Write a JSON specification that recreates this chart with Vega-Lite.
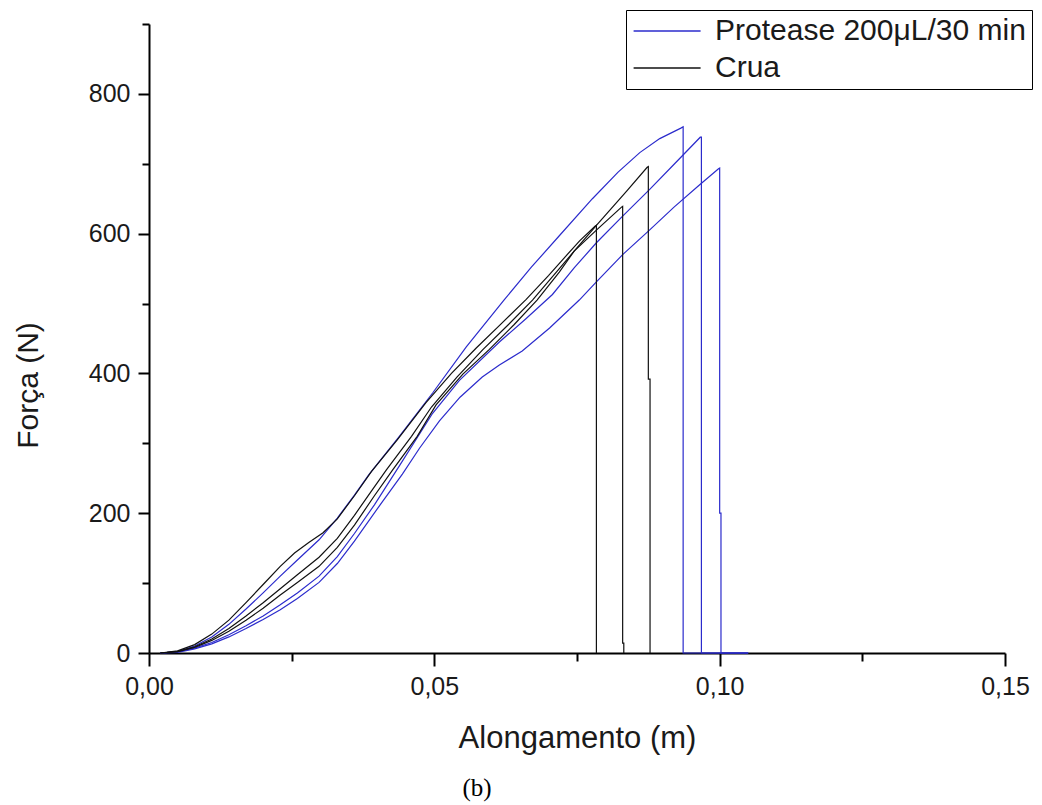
{
  "$schema": "https://vega.github.io/schema/vega-lite/v6.json",
  "width": 856,
  "height": 629,
  "autosize": {"type": "none"},
  "padding": {"left": 149, "top": 24, "right": 37, "bottom": 152},
  "background": "white",
  "config": {"view": {"stroke": null}, "font": "Liberation Sans"},
  "title": {"text": "(b)", "orient": "bottom", "anchor": "middle", "font": "Liberation Serif", "fontSize": 25, "fontWeight": "normal", "color": "black", "dx": -100, "offset": 23},
  "data": {"values": [
    {"c":"B1","g":"Protease 200μL/30 min","i":1,"x":0.002,"f":0},
    {"c":"B1","g":"Protease 200μL/30 min","i":2,"x":0.005,"f":2},
    {"c":"B1","g":"Protease 200μL/30 min","i":3,"x":0.008,"f":10},
    {"c":"B1","g":"Protease 200μL/30 min","i":4,"x":0.011,"f":23},
    {"c":"B1","g":"Protease 200μL/30 min","i":5,"x":0.014,"f":41},
    {"c":"B1","g":"Protease 200μL/30 min","i":6,"x":0.017,"f":63},
    {"c":"B1","g":"Protease 200μL/30 min","i":7,"x":0.02,"f":86},
    {"c":"B1","g":"Protease 200μL/30 min","i":8,"x":0.023,"f":110},
    {"c":"B1","g":"Protease 200μL/30 min","i":9,"x":0.026,"f":133},
    {"c":"B1","g":"Protease 200μL/30 min","i":10,"x":0.0298,"f":162},
    {"c":"B1","g":"Protease 200μL/30 min","i":11,"x":0.033,"f":193},
    {"c":"B1","g":"Protease 200μL/30 min","i":12,"x":0.036,"f":226},
    {"c":"B1","g":"Protease 200μL/30 min","i":13,"x":0.0385,"f":255},
    {"c":"B1","g":"Protease 200μL/30 min","i":14,"x":0.0437,"f":308},
    {"c":"B1","g":"Protease 200μL/30 min","i":15,"x":0.0497,"f":372},
    {"c":"B1","g":"Protease 200μL/30 min","i":16,"x":0.0556,"f":438},
    {"c":"B1","g":"Protease 200μL/30 min","i":17,"x":0.0622,"f":505},
    {"c":"B1","g":"Protease 200μL/30 min","i":18,"x":0.067,"f":552},
    {"c":"B1","g":"Protease 200μL/30 min","i":19,"x":0.0719,"f":597},
    {"c":"B1","g":"Protease 200μL/30 min","i":20,"x":0.0777,"f":650},
    {"c":"B1","g":"Protease 200μL/30 min","i":21,"x":0.0822,"f":688},
    {"c":"B1","g":"Protease 200μL/30 min","i":22,"x":0.086,"f":716},
    {"c":"B1","g":"Protease 200μL/30 min","i":23,"x":0.0895,"f":736},
    {"c":"B1","g":"Protease 200μL/30 min","i":24,"x":0.0932,"f":751},
    {"c":"B1","g":"Protease 200μL/30 min","i":25,"x":0.0936,"f":753},
    {"c":"B1","g":"Protease 200μL/30 min","i":26,"x":0.0936,"f":0},
    {"c":"B1","g":"Protease 200μL/30 min","i":27,"x":0.105,"f":0},

    {"c":"B2","g":"Protease 200μL/30 min","i":1,"x":0.002,"f":0},
    {"c":"B2","g":"Protease 200μL/30 min","i":2,"x":0.005,"f":2},
    {"c":"B2","g":"Protease 200μL/30 min","i":3,"x":0.008,"f":7},
    {"c":"B2","g":"Protease 200μL/30 min","i":4,"x":0.011,"f":15},
    {"c":"B2","g":"Protease 200μL/30 min","i":5,"x":0.014,"f":26},
    {"c":"B2","g":"Protease 200μL/30 min","i":6,"x":0.017,"f":39},
    {"c":"B2","g":"Protease 200μL/30 min","i":7,"x":0.02,"f":53},
    {"c":"B2","g":"Protease 200μL/30 min","i":8,"x":0.023,"f":69},
    {"c":"B2","g":"Protease 200μL/30 min","i":9,"x":0.026,"f":86},
    {"c":"B2","g":"Protease 200μL/30 min","i":10,"x":0.0298,"f":110},
    {"c":"B2","g":"Protease 200μL/30 min","i":11,"x":0.033,"f":138},
    {"c":"B2","g":"Protease 200μL/30 min","i":12,"x":0.036,"f":171},
    {"c":"B2","g":"Protease 200μL/30 min","i":13,"x":0.0395,"f":212},
    {"c":"B2","g":"Protease 200μL/30 min","i":14,"x":0.0439,"f":268},
    {"c":"B2","g":"Protease 200μL/30 min","i":15,"x":0.0497,"f":343},
    {"c":"B2","g":"Protease 200μL/30 min","i":16,"x":0.0544,"f":390},
    {"c":"B2","g":"Protease 200μL/30 min","i":17,"x":0.0614,"f":445},
    {"c":"B2","g":"Protease 200μL/30 min","i":18,"x":0.066,"f":478},
    {"c":"B2","g":"Protease 200μL/30 min","i":19,"x":0.0707,"f":513},
    {"c":"B2","g":"Protease 200μL/30 min","i":20,"x":0.0745,"f":551},
    {"c":"B2","g":"Protease 200μL/30 min","i":21,"x":0.0784,"f":587},
    {"c":"B2","g":"Protease 200μL/30 min","i":22,"x":0.083,"f":625},
    {"c":"B2","g":"Protease 200μL/30 min","i":23,"x":0.0877,"f":663},
    {"c":"B2","g":"Protease 200μL/30 min","i":24,"x":0.0921,"f":700},
    {"c":"B2","g":"Protease 200μL/30 min","i":25,"x":0.0966,"f":738},
    {"c":"B2","g":"Protease 200μL/30 min","i":26,"x":0.0968,"f":738},
    {"c":"B2","g":"Protease 200μL/30 min","i":27,"x":0.0968,"f":0},
    {"c":"B2","g":"Protease 200μL/30 min","i":28,"x":0.105,"f":0},

    {"c":"B3","g":"Protease 200μL/30 min","i":1,"x":0.002,"f":0},
    {"c":"B3","g":"Protease 200μL/30 min","i":2,"x":0.005,"f":1},
    {"c":"B3","g":"Protease 200μL/30 min","i":3,"x":0.008,"f":6},
    {"c":"B3","g":"Protease 200μL/30 min","i":4,"x":0.011,"f":13},
    {"c":"B3","g":"Protease 200μL/30 min","i":5,"x":0.014,"f":23},
    {"c":"B3","g":"Protease 200μL/30 min","i":6,"x":0.017,"f":35},
    {"c":"B3","g":"Protease 200μL/30 min","i":7,"x":0.02,"f":48},
    {"c":"B3","g":"Protease 200μL/30 min","i":8,"x":0.023,"f":62},
    {"c":"B3","g":"Protease 200μL/30 min","i":9,"x":0.026,"f":78},
    {"c":"B3","g":"Protease 200μL/30 min","i":10,"x":0.0298,"f":101},
    {"c":"B3","g":"Protease 200μL/30 min","i":11,"x":0.033,"f":128},
    {"c":"B3","g":"Protease 200μL/30 min","i":12,"x":0.036,"f":160},
    {"c":"B3","g":"Protease 200μL/30 min","i":13,"x":0.0405,"f":212},
    {"c":"B3","g":"Protease 200μL/30 min","i":14,"x":0.0444,"f":256},
    {"c":"B3","g":"Protease 200μL/30 min","i":15,"x":0.0474,"f":293},
    {"c":"B3","g":"Protease 200μL/30 min","i":16,"x":0.0509,"f":332},
    {"c":"B3","g":"Protease 200μL/30 min","i":17,"x":0.0545,"f":366},
    {"c":"B3","g":"Protease 200μL/30 min","i":18,"x":0.0584,"f":395},
    {"c":"B3","g":"Protease 200μL/30 min","i":19,"x":0.0614,"f":412},
    {"c":"B3","g":"Protease 200μL/30 min","i":20,"x":0.0654,"f":432},
    {"c":"B3","g":"Protease 200μL/30 min","i":21,"x":0.0702,"f":465},
    {"c":"B3","g":"Protease 200μL/30 min","i":22,"x":0.0754,"f":505},
    {"c":"B3","g":"Protease 200μL/30 min","i":23,"x":0.0784,"f":531},
    {"c":"B3","g":"Protease 200μL/30 min","i":24,"x":0.083,"f":570},
    {"c":"B3","g":"Protease 200μL/30 min","i":25,"x":0.0877,"f":605},
    {"c":"B3","g":"Protease 200μL/30 min","i":26,"x":0.092,"f":638},
    {"c":"B3","g":"Protease 200μL/30 min","i":27,"x":0.0965,"f":670},
    {"c":"B3","g":"Protease 200μL/30 min","i":28,"x":0.0998,"f":693},
    {"c":"B3","g":"Protease 200μL/30 min","i":29,"x":0.1,"f":694},
    {"c":"B3","g":"Protease 200μL/30 min","i":30,"x":0.1,"f":200},
    {"c":"B3","g":"Protease 200μL/30 min","i":31,"x":0.10023,"f":200},
    {"c":"B3","g":"Protease 200μL/30 min","i":32,"x":0.10023,"f":0},
    {"c":"B3","g":"Protease 200μL/30 min","i":33,"x":0.105,"f":0},

    {"c":"K1","g":"Crua","i":1,"x":0.002,"f":0},
    {"c":"K1","g":"Crua","i":2,"x":0.005,"f":3},
    {"c":"K1","g":"Crua","i":3,"x":0.008,"f":12},
    {"c":"K1","g":"Crua","i":4,"x":0.011,"f":27},
    {"c":"K1","g":"Crua","i":5,"x":0.014,"f":47},
    {"c":"K1","g":"Crua","i":6,"x":0.017,"f":72},
    {"c":"K1","g":"Crua","i":7,"x":0.02,"f":98},
    {"c":"K1","g":"Crua","i":8,"x":0.023,"f":124},
    {"c":"K1","g":"Crua","i":9,"x":0.0255,"f":143},
    {"c":"K1","g":"Crua","i":10,"x":0.028,"f":158},
    {"c":"K1","g":"Crua","i":11,"x":0.0305,"f":172},
    {"c":"K1","g":"Crua","i":12,"x":0.033,"f":192},
    {"c":"K1","g":"Crua","i":13,"x":0.036,"f":225},
    {"c":"K1","g":"Crua","i":14,"x":0.039,"f":260},
    {"c":"K1","g":"Crua","i":15,"x":0.0435,"f":305},
    {"c":"K1","g":"Crua","i":16,"x":0.0485,"f":358},
    {"c":"K1","g":"Crua","i":17,"x":0.053,"f":400},
    {"c":"K1","g":"Crua","i":18,"x":0.0573,"f":436},
    {"c":"K1","g":"Crua","i":19,"x":0.0617,"f":471},
    {"c":"K1","g":"Crua","i":20,"x":0.0661,"f":506},
    {"c":"K1","g":"Crua","i":21,"x":0.07,"f":540},
    {"c":"K1","g":"Crua","i":22,"x":0.0725,"f":563},
    {"c":"K1","g":"Crua","i":23,"x":0.0755,"f":590},
    {"c":"K1","g":"Crua","i":24,"x":0.0782,"f":611},
    {"c":"K1","g":"Crua","i":25,"x":0.0784,"f":612},
    {"c":"K1","g":"Crua","i":26,"x":0.0784,"f":0},

    {"c":"K2","g":"Crua","i":1,"x":0.002,"f":0},
    {"c":"K2","g":"Crua","i":2,"x":0.005,"f":2},
    {"c":"K2","g":"Crua","i":3,"x":0.008,"f":9},
    {"c":"K2","g":"Crua","i":4,"x":0.011,"f":20},
    {"c":"K2","g":"Crua","i":5,"x":0.014,"f":35},
    {"c":"K2","g":"Crua","i":6,"x":0.017,"f":53},
    {"c":"K2","g":"Crua","i":7,"x":0.02,"f":72},
    {"c":"K2","g":"Crua","i":8,"x":0.023,"f":92},
    {"c":"K2","g":"Crua","i":9,"x":0.026,"f":112},
    {"c":"K2","g":"Crua","i":10,"x":0.0298,"f":137},
    {"c":"K2","g":"Crua","i":11,"x":0.033,"f":164},
    {"c":"K2","g":"Crua","i":12,"x":0.036,"f":197},
    {"c":"K2","g":"Crua","i":13,"x":0.039,"f":232},
    {"c":"K2","g":"Crua","i":14,"x":0.0416,"f":262},
    {"c":"K2","g":"Crua","i":15,"x":0.046,"f":310},
    {"c":"K2","g":"Crua","i":16,"x":0.0495,"f":352},
    {"c":"K2","g":"Crua","i":17,"x":0.054,"f":395},
    {"c":"K2","g":"Crua","i":18,"x":0.0585,"f":434},
    {"c":"K2","g":"Crua","i":19,"x":0.063,"f":470},
    {"c":"K2","g":"Crua","i":20,"x":0.0672,"f":505},
    {"c":"K2","g":"Crua","i":21,"x":0.0719,"f":550},
    {"c":"K2","g":"Crua","i":22,"x":0.0745,"f":575},
    {"c":"K2","g":"Crua","i":23,"x":0.0784,"f":605},
    {"c":"K2","g":"Crua","i":24,"x":0.0828,"f":638},
    {"c":"K2","g":"Crua","i":25,"x":0.083,"f":639},
    {"c":"K2","g":"Crua","i":26,"x":0.083,"f":14},
    {"c":"K2","g":"Crua","i":27,"x":0.0832,"f":14},
    {"c":"K2","g":"Crua","i":28,"x":0.0832,"f":0},

    {"c":"K3","g":"Crua","i":1,"x":0.002,"f":0},
    {"c":"K3","g":"Crua","i":2,"x":0.005,"f":2},
    {"c":"K3","g":"Crua","i":3,"x":0.008,"f":8},
    {"c":"K3","g":"Crua","i":4,"x":0.011,"f":18},
    {"c":"K3","g":"Crua","i":5,"x":0.014,"f":31},
    {"c":"K3","g":"Crua","i":6,"x":0.017,"f":47},
    {"c":"K3","g":"Crua","i":7,"x":0.02,"f":64},
    {"c":"K3","g":"Crua","i":8,"x":0.023,"f":83},
    {"c":"K3","g":"Crua","i":9,"x":0.026,"f":101},
    {"c":"K3","g":"Crua","i":10,"x":0.0298,"f":124},
    {"c":"K3","g":"Crua","i":11,"x":0.033,"f":151},
    {"c":"K3","g":"Crua","i":12,"x":0.036,"f":183},
    {"c":"K3","g":"Crua","i":13,"x":0.0395,"f":225},
    {"c":"K3","g":"Crua","i":14,"x":0.0427,"f":262},
    {"c":"K3","g":"Crua","i":15,"x":0.047,"f":310},
    {"c":"K3","g":"Crua","i":16,"x":0.0503,"f":355},
    {"c":"K3","g":"Crua","i":17,"x":0.055,"f":399},
    {"c":"K3","g":"Crua","i":18,"x":0.0596,"f":434},
    {"c":"K3","g":"Crua","i":19,"x":0.064,"f":470},
    {"c":"K3","g":"Crua","i":20,"x":0.068,"f":505},
    {"c":"K3","g":"Crua","i":21,"x":0.0719,"f":545},
    {"c":"K3","g":"Crua","i":22,"x":0.0745,"f":575},
    {"c":"K3","g":"Crua","i":23,"x":0.0784,"f":612},
    {"c":"K3","g":"Crua","i":24,"x":0.0837,"f":661},
    {"c":"K3","g":"Crua","i":25,"x":0.0873,"f":695},
    {"c":"K3","g":"Crua","i":26,"x":0.0875,"f":696},
    {"c":"K3","g":"Crua","i":27,"x":0.0875,"f":392},
    {"c":"K3","g":"Crua","i":28,"x":0.0878,"f":392},
    {"c":"K3","g":"Crua","i":29,"x":0.0878,"f":0}
  ]},
  "mark": {"type": "line", "strokeWidth": 1.2, "interpolate": "linear"},
  "encoding": {
    "x": {
      "field": "x", "type": "quantitative",
      "scale": {"domain": [0, 0.15], "nice": false, "zero": true},
      "axis": {
        "title": "Alongamento (m)",
        "values": [0, 0.025, 0.05, 0.075, 0.1, 0.125, 0.15],
        "labelExpr": "abs(round(datum.value*40))%2==0 ? replace(format(datum.value,'.2f'),'.',',') : ''",
        "tickSize": {"condition": {"test": "abs(round(datum.value*40))%2==0", "value": 13}, "value": 8},
        "tickWidth": 2, "domainWidth": 2, "domainColor": "black", "tickColor": "black",
        "labelFont": "Liberation Sans", "labelFontSize": 25, "labelColor": "#1a1a1a", "labelPadding": 8,
        "labelFlush": false, "labelOverlap": false, "grid": false,
        "titleFont": "Liberation Sans", "titleFontSize": 31, "titleFontWeight": "normal", "titleColor": "#1a1a1a",
        "titleY": 94, "titleBaseline": "alphabetic"
      }
    },
    "y": {
      "field": "f", "type": "quantitative",
      "scale": {"domain": [0, 900], "nice": false},
      "axis": {
        "title": "Força (N)",
        "values": [0, 100, 200, 300, 400, 500, 600, 700, 800, 900],
        "labelExpr": "datum.value % 200 == 0 ? format(datum.value,'d') : ''",
        "tickSize": {"condition": {"test": "datum.value % 200 == 0", "value": 11}, "value": 7},
        "tickWidth": 2, "domainWidth": 2, "domainColor": "black", "tickColor": "black",
        "labelFont": "Liberation Sans", "labelFontSize": 25, "labelColor": "#1a1a1a", "labelPadding": 8,
        "labelFlush": false, "labelOverlap": false, "grid": false,
        "titleFont": "Liberation Sans", "titleFontSize": 30, "titleFontWeight": "normal", "titleColor": "#1a1a1a",
        "titleAngle": -90, "titleX": -112, "titleY": 361, "titleBaseline": "alphabetic", "titleAlign": "center"
      }
    },
    "color": {
      "field": "g", "type": "nominal",
      "scale": {"domain": ["Protease 200μL/30 min", "Crua"], "range": ["#2b2bcc", "#111111"]},
      "legend": {
        "title": null, "orient": "none", "legendX": 477, "legendY": -14, "direction": "vertical",
        "symbolType": "M-1,0H4", "symbolSize": 718, "symbolStrokeWidth": 1.5,
        "labelFont": "Liberation Sans", "labelFontSize": 30, "labelColor": "#1a1a1a", "labelOffset": 53, "labelLimit": 0,
        "strokeColor": "black", "fillColor": "white", "padding": 6, "rowPadding": 7
      }
    },
    "detail": {"field": "c"},
    "order": {"field": "i", "type": "quantitative"}
  }
}
